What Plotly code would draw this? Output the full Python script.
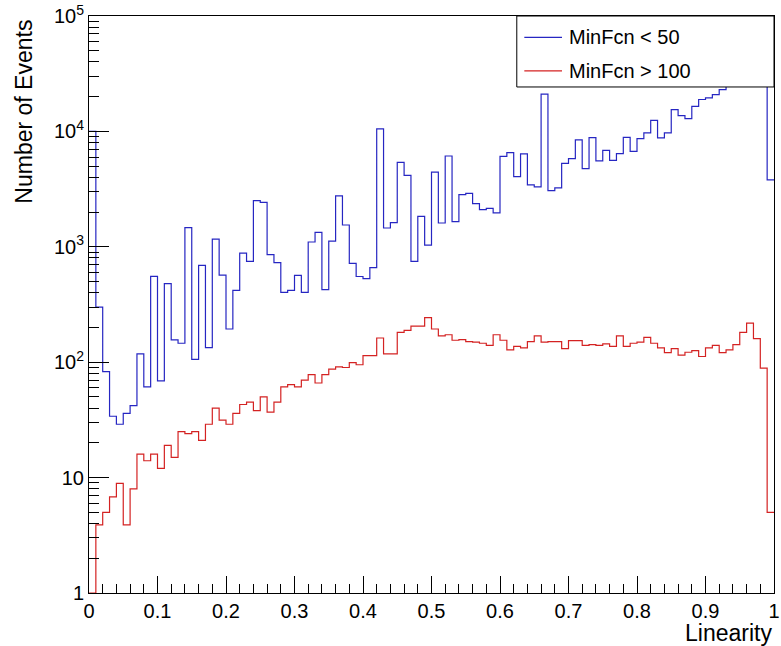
import numpy as np
import plotly.graph_objects as go

# ---------------- data ----------------
n_bins = 100
x_min, x_max = 0.0, 1.0

blue_label = "MinFcn < 50"
red_label = "MinFcn > 100"

blue_counts = [
    10000, 300, 83, 34, 29, 36, 42, 118, 61, 554,
    69, 479, 156, 146, 1465, 106, 690, 134, 1167, 569,
    194, 419, 883, 748, 2510, 2427, 854, 728, 403, 419,
    565, 403, 1100, 1333, 425, 1122, 2757, 1545, 718, 553,
    529, 659, 10520, 1455, 1618, 5395, 4160, 748, 1835, 1035,
    4440, 1608, 6124, 1651, 2831, 2905, 2365, 2098, 2155, 1964,
    6080, 6550, 4055, 6380, 3435, 3300, 21000, 3067, 3236, 5290,
    5806, 8440, 4757, 8830, 5550, 6860, 5620, 6415, 8890, 6700,
    8650, 9700, 12480, 8780, 9700, 15450, 13700, 12900, 16500, 18900,
    19500, 20850, 23000, 27000, 30000, 33000, 38000, 45000, 60000, 3800,
]

red_counts = [
    1, 3.9, 5.0, 6.8, 8.9, 3.9, 8.0, 16, 14, 16,
    12, 19, 15, 25, 24, 25, 21, 29, 40, 31.5,
    29, 36, 43, 45, 38, 50, 37, 45, 61, 64,
    61, 70, 78, 66, 78, 87, 91, 90, 99, 95,
    114, 114, 162, 118, 118, 181, 189, 205, 205, 243,
    194, 169, 173, 155, 157, 151, 149, 146, 140, 173,
    155, 128, 137, 133, 151, 169, 149, 151, 151, 131,
    154, 154, 140, 142, 140, 144, 137, 169, 137, 146,
    149, 164, 146, 133, 121, 131, 115, 122, 126, 112,
    133, 140, 121, 128, 142, 181, 218, 160, 89, 5.0,
]

x_tick_vals = [0, 0.1, 0.2, 0.3, 0.4, 0.5, 0.6, 0.7, 0.8, 0.9, 1]
x_tick_text = ["0", "0.1", "0.2", "0.3", "0.4", "0.5", "0.6", "0.7", "0.8", "0.9", "1"]
y_tick_vals = [1, 10, 100, 1000, 10000, 100000]
y_tick_text = ["1", "10", "10<sup>2</sup>", "10<sup>3</sup>", "10<sup>4</sup>", "10<sup>5</sup>"]

x_title = "Linearity"
y_title = "Number of Events"

# ---------------- figure ----------------
edges = np.linspace(x_min, x_max, n_bins + 1)


def step_xy(counts):
    xs = list(edges[:-1]) + [edges[-1]]
    ys = list(counts) + [counts[-1]]
    return xs, ys


FONT = "Liberation Sans, Arial, Helvetica, sans-serif"
BLUE = "#2626c2"
RED = "#d42222"

fig = go.Figure()
bx, by = step_xy(blue_counts)
rx, ry = step_xy(red_counts)
fig.add_trace(go.Scatter(x=bx, y=by, mode="lines", line=dict(color=BLUE, width=1.2, shape="hv"),
                         name=blue_label, showlegend=False))
fig.add_trace(go.Scatter(x=rx, y=ry, mode="lines", line=dict(color=RED, width=1.2, shape="hv"),
                         name=red_label, showlegend=False))

# legend box (ROOT TLegend style)
leg_x0, leg_y0 = 0.6245, 0.877
fig.add_shape(type="rect", xref="paper", yref="paper", x0=leg_x0, x1=1.0, y0=leg_y0, y1=1.0,
              fillcolor="white", line=dict(color="black", width=1), layer="above")
for i, (lab, col) in enumerate([(blue_label, BLUE), (red_label, RED)]):
    yy = 0.963 - i * 0.058
    fig.add_shape(type="line", xref="paper", yref="paper", x0=leg_x0 + 0.011, x1=leg_x0 + 0.066,
                  y0=yy, y1=yy, line=dict(color=col, width=1.2), layer="above")
    fig.add_annotation(xref="paper", yref="paper", x=leg_x0 + 0.074, y=yy, text=lab,
                       showarrow=False, xanchor="left", yanchor="middle",
                       font=dict(family=FONT, size=20, color="black"))

# axis titles (ROOT-style placement)
fig.add_annotation(xref="paper", yref="paper", x=1.0, y=-0.069, text=x_title, showarrow=False,
                   xanchor="right", yanchor="middle", font=dict(family=FONT, size=23, color="black"))
fig.add_annotation(xref="paper", yref="paper", x=-0.095, y=0.997, text=y_title, showarrow=False,
                   textangle=-90, xanchor="center", yanchor="top",
                   font=dict(family=FONT, size=23, color="black"))

fig.update_xaxes(range=[x_min, x_max], tickvals=x_tick_vals, ticktext=x_tick_text,
                 ticks="inside", ticklen=17, tickwidth=1, tickcolor="black",
                 minor=dict(ticks="inside", ticklen=9, dtick=0.02, tickcolor="black", showgrid=False),
                 showline=True, linecolor="black", linewidth=1, mirror=True,
                 showgrid=False, zeroline=False, automargin=False,
                 tickfont=dict(family=FONT, size=20, color="black"))
fig.update_yaxes(type="log", range=[0, 5], tickvals=y_tick_vals, ticktext=y_tick_text,
                 ticks="inside", ticklen=20, tickwidth=1, tickcolor="black",
                 minor=dict(ticks="inside", ticklen=10, dtick="D1", tickcolor="black", showgrid=False),
                 showline=True, linecolor="black", linewidth=1, mirror=True,
                 showgrid=False, zeroline=False, automargin=False,
                 tickfont=dict(family=FONT, size=20, color="black"))

fig.update_layout(width=781, height=646, margin=dict(l=89, r=7, t=16, b=53, autoexpand=False),
                  paper_bgcolor="white", plot_bgcolor="white", showlegend=False)

fig.write_html("out.html")
